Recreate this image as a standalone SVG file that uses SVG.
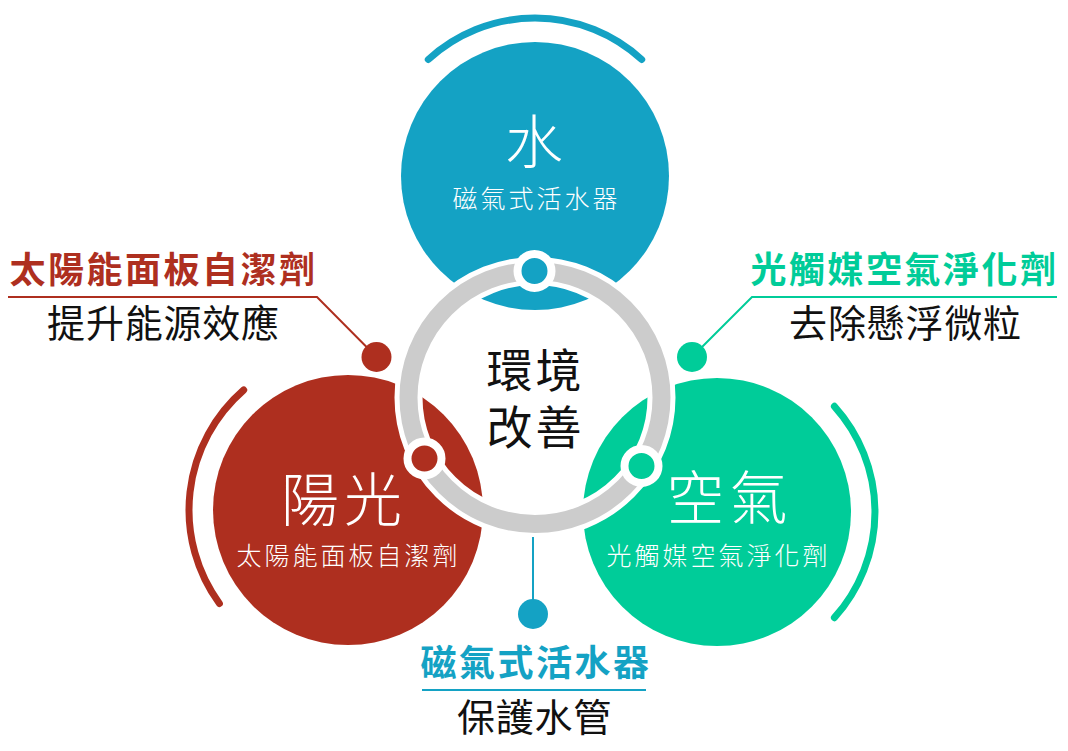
<svg xmlns="http://www.w3.org/2000/svg" width="1068" height="751" viewBox="0 0 1068 751">
<style>
.cjk{font-family:"Noto Sans CJK TC","Noto Sans CJK SC",sans-serif;}
.w{fill:#ffffff;font-weight:300;}
.arc{fill:none;stroke-width:7;stroke-linecap:round;}
.ttl{font-size:36px;font-weight:bold;letter-spacing:2.5px;}
.sub{font-size:38px;fill:#111111;letter-spacing:0.8px;}
.big{font-size:58px;letter-spacing:5px;}
.sm{font-size:25px;letter-spacing:3px;}
.ln{fill:none;stroke-width:2;}
</style>
<rect width="1068" height="751" fill="#ffffff"/>
<g id="node-water">
<path class="arc" stroke="#14A2C4" d="M428.3,59.5 A158,158 0 0 1 641.7,59.5"/>
<circle cx="535" cy="176" r="134" fill="#14A2C4"/>
</g>
<g id="node-sun">
<path class="arc" stroke="#AE2F1F" d="M219.4,603.5 A159,159 0 0 1 243.7,390"/>
<circle cx="348" cy="510" r="135" fill="#AE2F1F"/>
</g>
<g id="node-air">
<path class="arc" stroke="#00CC99" d="M834.4,406.3 A158,158 0 0 1 834.4,617.7"/>
<circle cx="717" cy="512" r="134" fill="#00CC99"/>
</g>
<g id="ring">
<circle cx="535" cy="397.5" r="126.5" fill="none" stroke="#ffffff" stroke-width="28"/>
<circle cx="535" cy="397.5" r="126.5" fill="none" stroke="#CCCCCC" stroke-width="18"/>
<circle cx="534.5" cy="271" r="17" fill="#14A2C4" stroke="#ffffff" stroke-width="8"/>
<circle cx="424.5" cy="458.5" r="17" fill="#AE2F1F" stroke="#ffffff" stroke-width="8"/>
<circle cx="641.5" cy="466" r="17" fill="#00CC99" stroke="#ffffff" stroke-width="8"/>
</g>
<g id="connectors">
<polyline class="ln" stroke="#AE2F1F" points="376.5,357 317,297 8,297"/>
<polyline class="ln" stroke="#00CC99" points="692,357 752,297 1057,297"/>
<line class="ln" stroke="#14A2C4" x1="533" y1="537" x2="533" y2="614"/>
<line class="ln" stroke="#14A2C4" x1="422" y1="690" x2="646" y2="690"/>
<circle cx="376.5" cy="357" r="15" fill="#AE2F1F"/>
<circle cx="692" cy="357" r="15" fill="#00CC99"/>
<circle cx="533" cy="614" r="15" fill="#14A2C4"/>
</g>
<g id="text-water" class="cjk">
<text class="w big" x="536.5" y="163" text-anchor="middle">水</text>
<text class="w sm" x="536.5" y="208" text-anchor="middle">磁氣式活水器</text>
</g>
<g id="text-sun" class="cjk">
<text class="w big" x="344" y="521" text-anchor="middle">陽光</text>
<text class="w sm" x="348.5" y="565" text-anchor="middle">太陽能面板自潔劑</text>
</g>
<g id="text-air" class="cjk">
<text class="w big" x="729.5" y="519" text-anchor="middle">空氣</text>
<text class="w sm" x="718.5" y="565" text-anchor="middle">光觸媒空氣淨化劑</text>
</g>
<g id="text-center" class="cjk" font-size="46" letter-spacing="3" fill="#111111">
<text text-anchor="middle"><tspan x="535.5" y="387">環境</tspan><tspan x="535.5" y="444">改善</tspan></text>
</g>
<g id="label-sun" class="cjk">
<text class="ttl" fill="#AE2F1F" x="163.5" y="282.5" text-anchor="middle">太陽能面板自潔劑</text>
<text class="sub" x="163.5" y="337" text-anchor="middle">提升能源效應</text>
</g>
<g id="label-air" class="cjk">
<text class="ttl" fill="#00CC99" x="904.5" y="282.5" text-anchor="middle">光觸媒空氣淨化劑</text>
<text class="sub" x="905.5" y="337" text-anchor="middle">去除懸浮微粒</text>
</g>
<g id="label-water" class="cjk">
<text class="ttl" fill="#14A2C4" x="536" y="676" text-anchor="middle">磁氣式活水器</text>
<text class="sub" x="534.5" y="731" text-anchor="middle">保護水管</text>
</g>
</svg>
